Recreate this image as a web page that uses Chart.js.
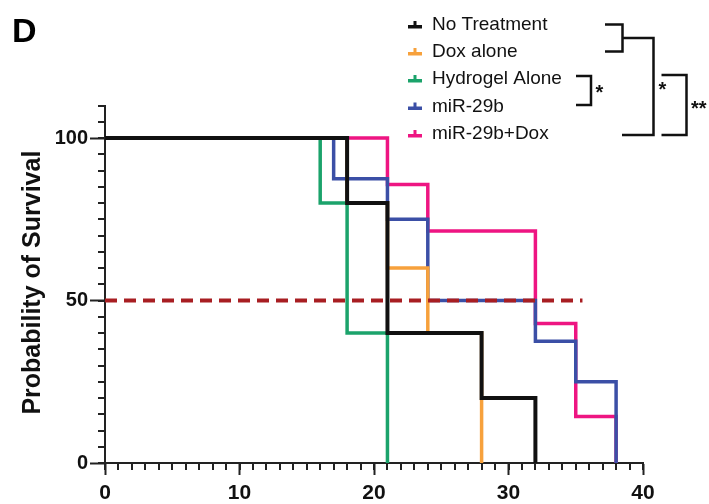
<!DOCTYPE html>
<html>
<head>
<meta charset="utf-8">
<script src="https://cdn.jsdelivr.net/npm/chart.js@4.4.1/dist/chart.umd.min.js"></script>
<style>
  html, body { margin: 0; padding: 0; background: #ffffff; }
  #wrap { position: relative; width: 709px; height: 504px; }
  canvas { display: block; }
</style>
</head>
<body>
<div id="wrap"><canvas id="c" width="709" height="504"></canvas></div>
<script>
// ---- Data ----
const seriesNames = ["No Treatment", "Dox alone", "Hydrogel Alone", "miR-29b", "miR-29b+Dox"];
const noTreatmentDays = [0, 18, 21, 28, 32];
const noTreatmentSurv = [100, 80, 40, 20, 0];
const doxDays = [0, 18, 21, 24, 28];
const doxSurv = [100, 80, 60, 40, 0];
const hydrogelDays = [0, 16, 18, 21];
const hydrogelSurv = [100, 80, 40, 0];
const mirDays = [0, 17, 21, 24, 32, 35, 38];
const mirSurv = [100, 87.5, 75, 50, 37.5, 25, 0];
const comboDays = [0, 21, 24, 32, 35, 38];
const comboSurv = [100, 85.7, 71.4, 42.9, 14.3, 0];
const medianDays = [0, 35.5];
const medianSurv = [50, 50];
const xTicks = [0, 10, 20, 30, 40];
const yTicks = [0, 50, 100];
const significance = ["*", "*", "**"];
const yTitle = "Probability of Survival";

const colors = ["#111111", "#f7a13c", "#1ba36b", "#3b4fa6", "#ee1582"];
const FONT = "'Liberation Sans', Arial, Helvetica, sans-serif";

function pts(xs, ys) { return xs.map((x, i) => ({ x: x, y: ys[i] })); }

const kmSets = [
  [noTreatmentDays, noTreatmentSurv],
  [doxDays, doxSurv],
  [hydrogelDays, hydrogelSurv],
  [mirDays, mirSurv],
  [comboDays, comboSurv]
];

const datasets = kmSets.map((s, i) => ({
  label: seriesNames[i],
  data: pts(s[0], s[1]),
  borderColor: colors[i],
  backgroundColor: colors[i],
  borderWidth: i === 0 ? 4 : 3.5,
  stepped: 'before',
  pointRadius: 0,
  fill: false,
  order: i + 1,
  borderCapStyle: 'butt',
  borderJoinStyle: 'miter'
}));
datasets.push({
  label: 'median',
  data: pts(medianDays, medianSurv),
  borderColor: '#a81e22',
  borderWidth: 4,
  borderDash: [12, 7],
  pointRadius: 0,
  fill: false,
  order: 0
});

const decorPlugin = {
  id: 'decor',
  afterDraw(chart) {
    const ctx = chart.ctx;
    const xs = chart.scales.x, ys = chart.scales.y;
    const ca = chart.chartArea;
    ctx.save();
    // minor ticks
    ctx.strokeStyle = '#222';
    ctx.lineWidth = 2;
    ctx.beginPath();
    for (let v = 0; v <= 40; v += 1) {
      const px = Math.round(xs.getPixelForValue(v));
      ctx.moveTo(px, ca.bottom);
      ctx.lineTo(px, ca.bottom + 7);
    }
    for (let v = 0; v <= 110; v += 5) {
      const py = Math.round(ys.getPixelForValue(v));
      ctx.moveTo(ca.left, py);
      ctx.lineTo(ca.left - 7, py);
    }
    ctx.stroke();

    // y axis title
    ctx.save();
    ctx.translate(33, ys.getPixelForValue(55.5));
    ctx.rotate(-Math.PI / 2);
    ctx.fillStyle = '#111';
    ctx.font = "bold 25px " + FONT;
    ctx.textAlign = 'center';
    ctx.textBaseline = 'middle';
    ctx.fillText(yTitle, 0, 0);
    ctx.restore();

    // panel letter
    ctx.fillStyle = '#000';
    ctx.font = "bold 34px " + FONT;
    ctx.textBaseline = 'alphabetic';
    ctx.textAlign = 'left';
    ctx.fillText('D', 12, 42);

    // legend
    const rows = [25, 52, 79, 106.5, 134];
    ctx.font = "19px " + FONT;
    ctx.textBaseline = 'middle';
    for (let i = 0; i < seriesNames.length; i++) {
      const y = rows[i];
      ctx.fillStyle = colors[i];
      ctx.fillRect(408, y, 14, 3.5);
      ctx.fillRect(413.5, y - 4, 3, 5);
      ctx.fillStyle = '#111';
      ctx.fillText(seriesNames[i], 432, y);
    }

    // brackets
    ctx.strokeStyle = '#111';
    ctx.lineWidth = 2.5;
    ctx.lineJoin = 'miter';
    ctx.beginPath();
    ctx.moveTo(605, 24.5); ctx.lineTo(622.5, 24.5); ctx.lineTo(622.5, 51.5); ctx.lineTo(605, 51.5);
    ctx.moveTo(622.5, 38); ctx.lineTo(653.5, 38); ctx.lineTo(653.5, 135); ctx.lineTo(622, 135);
    ctx.moveTo(576, 76); ctx.lineTo(591, 76); ctx.lineTo(591, 105); ctx.lineTo(576, 105);
    ctx.moveTo(661.5, 75); ctx.lineTo(686.5, 75); ctx.lineTo(686.5, 135); ctx.lineTo(661.5, 135);
    ctx.stroke();

    ctx.fillStyle = '#111';
    ctx.font = "bold 20px " + FONT;
    ctx.textBaseline = 'middle';
    ctx.fillText(significance[0], 595.5, 93);
    ctx.fillText(significance[1], 658.5, 90);
    ctx.fillText(significance[2], 691, 109);
    ctx.restore();
  }
};

new Chart(document.getElementById('c'), {
  type: 'line',
  data: { datasets: datasets },
  options: {
    responsive: false,
    animation: false,
    devicePixelRatio: 1,
    layout: { padding: { left: 0, right: 66, top: 105.5, bottom: 0 } },
    plugins: { legend: { display: false }, tooltip: { enabled: false } },
    scales: {
      x: {
        type: 'linear',
        min: 0, max: 40,
        afterFit(scale) { scale.height = 41; },
        afterBuildTicks(scale) { scale.ticks = xTicks.map(v => ({ value: v })); },
        ticks: {
          stepSize: 10,
          color: '#111',
          font: { family: FONT, size: 21, weight: 'bold' },
          padding: 6,
          maxRotation: 0
        },
        grid: { drawOnChartArea: false, tickLength: 12, tickWidth: 2, tickColor: '#222' },
        border: { display: true, color: '#222', width: 2 }
      },
      y: {
        type: 'linear',
        min: 0, max: 110,
        afterFit(scale) { scale.width = 105; },
        afterBuildTicks(scale) { scale.ticks = yTicks.map(v => ({ value: v })); },
        ticks: {
          stepSize: 50,
          color: '#111',
          font: { family: FONT, size: 20, weight: 'bold' },
          padding: 2
        },
        grid: { drawOnChartArea: false, tickLength: 15, tickWidth: 2, tickColor: '#222' },
        border: { display: true, color: '#222', width: 2 }
      }
    }
  },
  plugins: [decorPlugin]
});
</script>
</body>
</html>
